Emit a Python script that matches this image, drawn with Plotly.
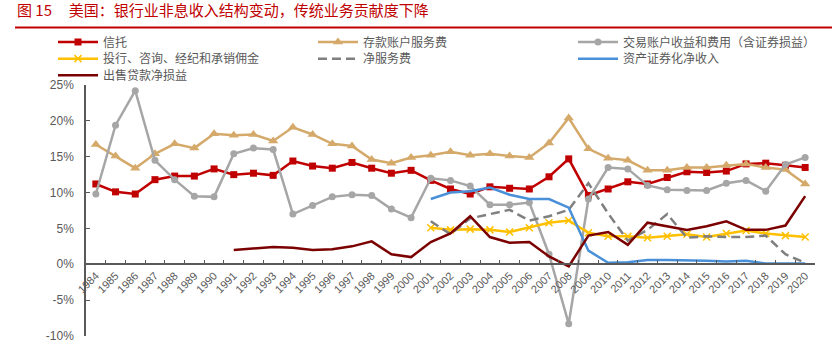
import plotly.graph_objects as go

years = [str(y) for y in range(1984, 2021)]

trust = [11.2, 10.1, 9.8, 11.8, 12.3, 12.3, 13.3, 12.5, 12.7, 12.4, 14.4, 13.7, 13.4, 14.2, 13.4,
         12.7, 13.1, 11.7, 10.5, 9.8, 10.8, 10.6, 10.5, 12.2, 14.7, 9.6, 10.5, 11.5, 11.2, 12.1,
         12.9, 12.8, 13.0, 14.0, 14.1, 13.8, 13.5]
deposit_fee = [16.7, 15.1, 13.4, 15.4, 16.8, 16.2, 18.2, 18.0, 18.1, 17.2, 19.1, 18.1, 16.8, 16.5,
               14.6, 14.1, 14.9, 15.2, 15.7, 15.2, 15.4, 15.1, 14.9, 16.9, 20.4, 16.1, 14.8, 14.5,
               13.1, 13.1, 13.5, 13.5, 13.8, 14.0, 13.5, 13.2, 11.2]
trading = [9.8, 19.4, 24.2, 14.5, 11.8, 9.5, 9.4, 15.4, 16.2, 16.0, 7.0, 8.2, 9.4, 9.7, 9.6, 7.7,
           6.5, 12.0, 11.7, 10.9, 8.3, 8.3, 8.6, 1.4, -8.3, 9.1, 13.5, 13.3, 11.0, 10.4, 10.3,
           10.3, 11.3, 11.7, 10.2, 13.9, 14.9]
ib = [None] * 17 + [5.1, 4.8, 4.9, 4.8, 4.5, 5.1, 5.8, 6.1, 4.4, 3.9, 3.9, 3.7, 3.9, 4.2, 3.8,
                    4.3, 4.7, 4.3, 4.0, 3.8]
net_service = [None] * 17 + [6.0, 4.2, 6.4, 7.0, 7.6, 6.1, 6.7, 7.6, 11.3, 7.1, 3.3, 4.8, 7.0,
                             3.7, 3.9, 3.8, 3.8, 4.0, 1.4, 0.2]
securitization = [None] * 17 + [9.1, 10.0, 10.2, 10.7, 9.7, 9.1, 9.1, 7.9, 1.9, 0.2, 0.3, 0.6,
                                0.6, 0.6, 0.5, 0.4, 0.5, 0.1, 0.1, 0.1]
loan_sales = [None] * 7 + [2.0, 2.2, 2.4, 2.3, 2.0, 2.1, 2.5, 3.2, 1.4, 1.0, 3.1, 4.3, 6.7, 3.8,
                           3.0, 3.1, 1.1, -0.3, 4.0, 4.5, 2.7, 5.8, 5.3, 4.8, 5.3, 6.0, 4.8, 4.8,
                           5.4, 9.5]

names = ["信托", "存款账户服务费", "交易账户收益和费用（含证券损益）",
         "投行、咨询、经纪和承销佣金", "净服务费", "资产证券化净收入", "出售贷款净损益"]

y_tickvals = [-10, -5, 0, 5, 10, 15, 20, 25]
y_ticktext = ["-10%", "-5%", "0%", "5%", "10%", "15%", "20%", "25%"]

fig = go.Figure()
LW = 2.5
fig.add_trace(go.Scatter(x=years, y=trust, name=names[0], mode="lines+markers", legend="legend",
                         line=dict(color="#C00000", width=LW),
                         marker=dict(symbol="square", size=7, color="#C00000")))
fig.add_trace(go.Scatter(x=years, y=deposit_fee, name=names[1], mode="lines+markers", legend="legend2",
                         line=dict(color="#D4A96A", width=LW),
                         marker=dict(symbol="triangle-up", size=9, color="#D4A96A")))
fig.add_trace(go.Scatter(x=years, y=trading, name=names[2], mode="lines+markers", legend="legend3",
                         line=dict(color="#A6A6A6", width=LW),
                         marker=dict(symbol="circle", size=7, color="#A6A6A6")))
fig.add_trace(go.Scatter(x=years, y=ib, name=names[3], mode="lines+markers", legend="legend4",
                         line=dict(color="#FFC000", width=LW),
                         marker=dict(symbol="x-thin-open", size=7,
                                     line=dict(color="#FFC000", width=1.5))))
fig.add_trace(go.Scatter(x=years, y=net_service, name=names[4], mode="lines", legend="legend5",
                         line=dict(color="#7F7F7F", width=LW, dash="9px,5px")))
fig.add_trace(go.Scatter(x=years, y=securitization, name=names[5], mode="lines", legend="legend6",
                         line=dict(color="#4A90D9", width=LW)))
fig.add_trace(go.Scatter(x=years, y=loan_sales, name=names[6], mode="lines", legend="legend7",
                         line=dict(color="#7B0000", width=LW)))

L, R, T, B = 86, 17, 85, 11
W, H = 832, 354
pw, ph = W - L - R, H - T - B
xaxis_pos = 10 / 35  # y=0 position in the plot area


def legend_at(px, py):
    return dict(orientation="v", x=(px - L) / pw, xanchor="left",
                y=(H - B - py) / ph, yanchor="top", itemwidth=40,
                font=dict(family="Noto Sans CJK SC, sans-serif", size=12, color="#595959"),
                bgcolor="rgba(0,0,0,0)", tracegroupgap=0, traceorder="normal")


cols = [53, 313, 573]
rows = [26, 43, 60]

fig.update_layout(
    width=W, height=H,
    margin=dict(l=L, r=R, t=T, b=B),
    paper_bgcolor="white", plot_bgcolor="white",
    font=dict(family="Liberation Sans, Arial, sans-serif", color="#595959", size=11),
    showlegend=True,
    legend=legend_at(cols[0], rows[0]),
    legend2=legend_at(cols[1], rows[0]),
    legend3=legend_at(cols[2], rows[0]),
    legend4=legend_at(cols[0], rows[1]),
    legend5=legend_at(cols[1], rows[1]),
    legend6=legend_at(cols[2], rows[1]),
    legend7=legend_at(cols[0], rows[2]),
    title=dict(text="图 15     美国：银行业非息收入结构变动，传统业务贡献度下降",
               font=dict(family="Noto Sans CJK SC, sans-serif", size=15, color="#C00000"),
               x=17 / W, xanchor="left", xref="container",
               y=1 - 11 / H, yanchor="middle", yref="container"),
    xaxis=dict(type="category", range=[-0.5, 36.5], anchor="free", position=xaxis_pos,
               showline=True, linecolor="#595959", linewidth=1.5,
               ticks="inside", ticklen=4, tickcolor="#595959", tickwidth=1,
               tickson="boundaries", tickangle=-45, showgrid=False, zeroline=False,
               tickfont=dict(size=11, color="#595959")),
    yaxis=dict(range=[-10, 25], tickmode="array", tickvals=y_tickvals, ticktext=y_ticktext,
               showline=True, linecolor="#595959", linewidth=1.5, ticks="inside", ticklen=4,
               tickcolor="#595959", showgrid=False, zeroline=False, ticklabelstandoff=8,
               tickfont=dict(size=12, color="#595959")),
)

fig.add_shape(type="line", xref="paper", yref="paper",
              x0=(15 - L) / pw, x1=(832 - L) / pw,
              y0=(H - B - 26) / ph, y1=(H - B - 26) / ph,
              line=dict(color="#C00000", width=2))

fig.write_html("out.html")
